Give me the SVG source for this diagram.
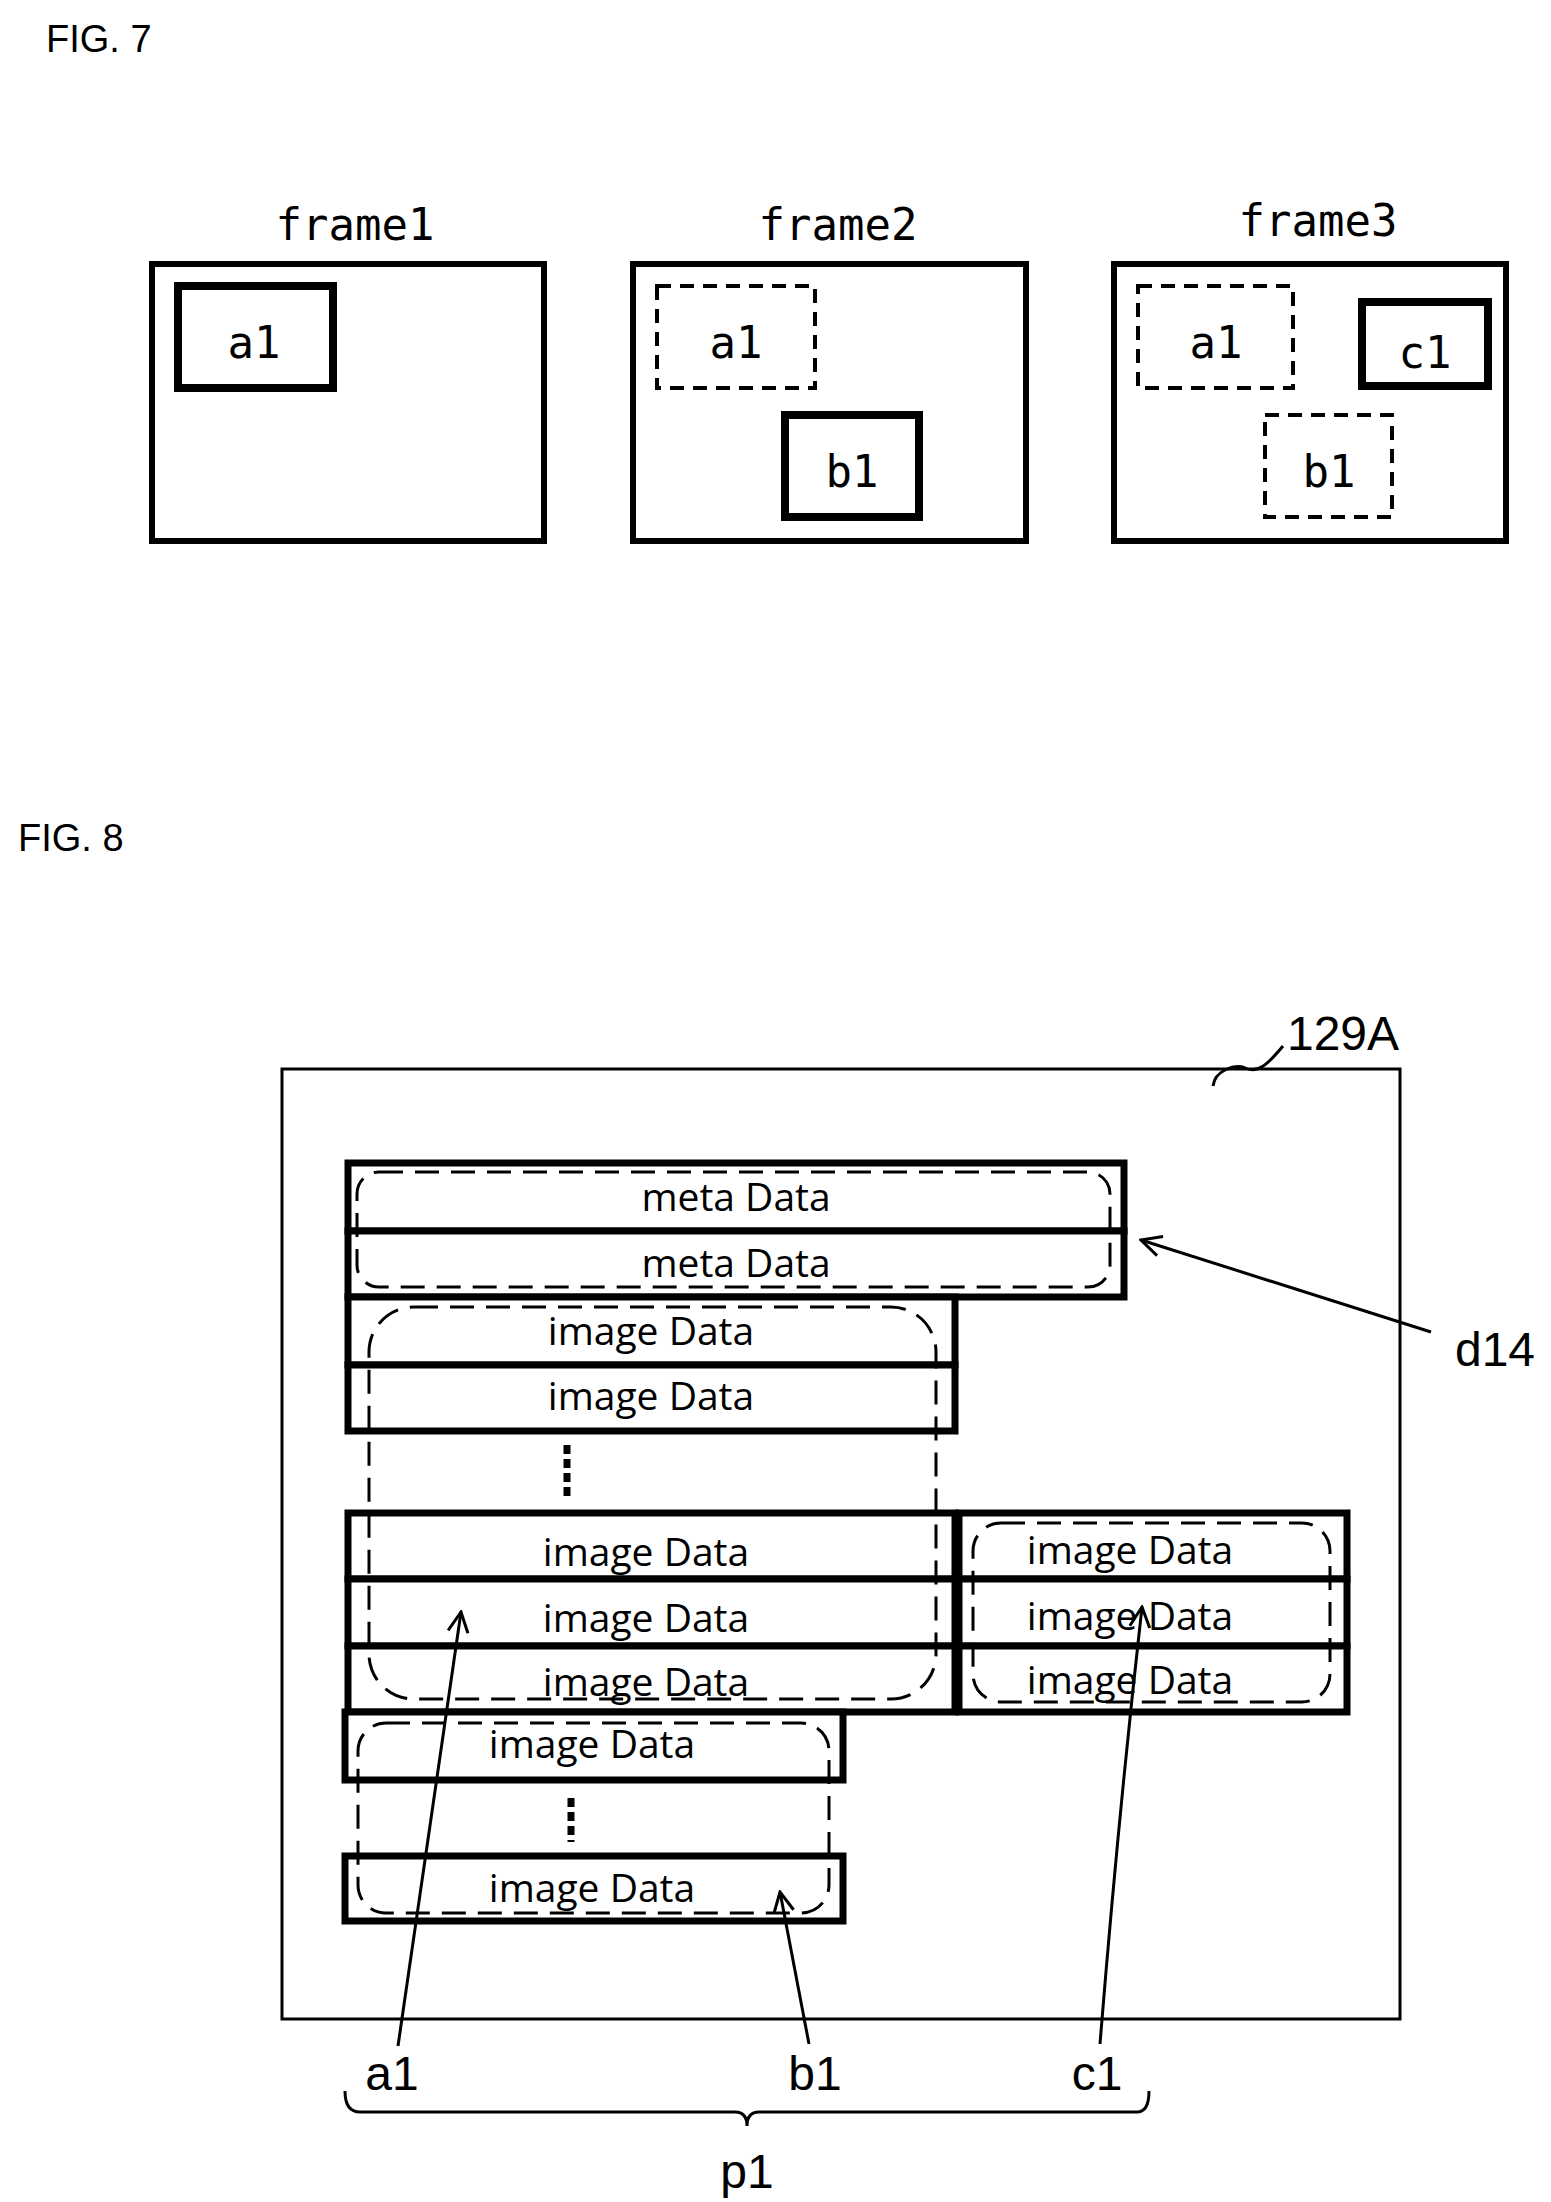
<svg xmlns="http://www.w3.org/2000/svg" width="1551" height="2202" viewBox="0 0 1551 2202">
<style>
.fig{font-family:"Liberation Sans",Arial,sans-serif;font-size:38px;fill:#000}
.mono{font-family:"DejaVu Sans Mono","Liberation Mono",monospace;font-size:44px;fill:#000;text-anchor:middle}
.lab{font-family:"Liberation Sans Narrow","Liberation Sans",sans-serif;font-size:48px;fill:#000;text-anchor:middle}
.dt{font-family:"Open Sans","Noto Sans",sans-serif;font-size:39px;fill:#000;text-anchor:middle}
.frame{fill:#fff;stroke:#000;stroke-width:6}
.solid{fill:#fff;stroke:#000;stroke-width:8}
.dash{fill:none;stroke:#000;stroke-width:4;stroke-dasharray:14 9}
.row{fill:#fff;stroke:#000;stroke-width:7}
.rd{fill:none;stroke:#000;stroke-width:3;stroke-dasharray:24 12}
.ln{fill:none;stroke:#000;stroke-width:3}
</style>
<defs><marker id="ah" markerWidth="24" markerHeight="24" refX="22" refY="12" orient="auto" markerUnits="userSpaceOnUse"><path d="M2,2 L22,12 L2,22" fill="none" stroke="#000" stroke-width="3"/></marker></defs>
<text class="fig" x="46" y="52">FIG. 7</text>
<g id="frame1"><text class="mono" x="355" y="240">frame1</text><rect class="frame" x="152" y="264" width="392" height="277"/>
<g id="f1a1"><rect class="solid" x="178" y="286" width="155" height="102"/><text class="mono" x="254" y="358">a1</text></g></g>
<g id="frame2"><text class="mono" x="838" y="240">frame2</text><rect class="frame" x="633" y="264" width="393" height="277"/>
<g id="f2a1"><rect class="dash" x="657" y="286" width="158" height="102"/><text class="mono" x="736" y="358">a1</text></g>
<g id="f2b1"><rect class="solid" x="785" y="415" width="134" height="102"/><text class="mono" x="852" y="487">b1</text></g></g>
<g id="frame3"><text class="mono" x="1318" y="236">frame3</text><rect class="frame" x="1114" y="264" width="392" height="277"/>
<g id="f3a1"><rect class="dash" x="1138" y="286" width="155" height="102"/><text class="mono" x="1216" y="358">a1</text></g>
<g id="f3c1"><rect class="solid" x="1362" y="302" width="126" height="84"/><text class="mono" x="1425" y="368">c1</text></g>
<g id="f3b1"><rect class="dash" x="1265" y="415" width="127" height="102"/><text class="mono" x="1329" y="487">b1</text></g></g>
<text class="fig" x="18" y="851">FIG. 8</text>
<g id="box129A"><rect x="282" y="1069" width="1118" height="950" fill="#fff" stroke="#000" stroke-width="3"/>
<path class="ln" d="M1213,1086 C1215,1070 1235,1064 1245,1068 C1258,1074 1268,1064 1283,1046"/>
<text class="lab" x="1343" y="1050">129A</text></g>
<g id="rows">
<rect class="row" x="348" y="1163" width="776" height="68"/><rect class="row" x="348" y="1231" width="776" height="66"/>
<rect class="row" x="348" y="1297" width="607" height="68"/><rect class="row" x="348" y="1365" width="607" height="66"/>
<rect class="row" x="348" y="1513" width="607" height="66"/><rect class="row" x="348" y="1579" width="607" height="67"/><rect class="row" x="348" y="1646" width="607" height="66"/>
<rect class="row" x="959" y="1513" width="388" height="66"/><rect class="row" x="959" y="1579" width="388" height="67"/><rect class="row" x="959" y="1646" width="388" height="66"/>
<rect class="row" x="345" y="1712" width="498" height="68"/><rect class="row" x="345" y="1856" width="498" height="65"/>
<path d="M567,1445 V1497 M571,1798 V1842" stroke="#000" stroke-width="7" stroke-dasharray="9 5" fill="none"/>
<text class="dt" x="736" y="1211">meta Data</text><text class="dt" x="736" y="1277">meta Data</text>
<text class="dt" x="651" y="1345">image Data</text><text class="dt" x="651" y="1410">image Data</text>
<text class="dt" x="646" y="1566">image Data</text><text class="dt" x="646" y="1632">image Data</text><text class="dt" x="646" y="1696">image Data</text>
<text class="dt" x="1130" y="1564">image Data</text><text class="dt" x="1130" y="1630">image Data</text><text class="dt" x="1130" y="1694">image Data</text>
<text class="dt" x="592" y="1758">image Data</text><text class="dt" x="592" y="1902">image Data</text>
</g>
<g id="d14"><rect class="rd" x="357" y="1172" width="753" height="115" rx="22"/><text class="lab" x="1495" y="1366">d14</text></g>
<g id="a1"><rect class="rd" x="369" y="1307" width="567" height="392" rx="45"/><text class="lab" x="392" y="2090">a1</text></g>
<g id="c1"><rect class="rd" x="973" y="1523" width="357" height="179" rx="28"/><text class="lab" x="1097" y="2090">c1</text></g>
<g id="b1"><rect class="rd" x="358" y="1723" width="471" height="190" rx="28"/><text class="lab" x="815" y="2090">b1</text></g>
<g id="p1"><path class="ln" d="M345,2091 Q345,2112 360,2112 H735 Q747,2112 747,2126 Q747,2112 759,2112 H1137 Q1149,2112 1149,2091"/><text class="lab" x="747" y="2188">p1</text></g>
<g id="connectors">
<path class="ln" d="M1431,1332 L1141,1240" marker-end="url(#ah)"/>
<path class="ln" d="M398,2046 Q430,1820 461,1612" marker-end="url(#ah)"/>
<path class="ln" d="M809,2044 L780,1892" marker-end="url(#ah)"/>
<path class="ln" d="M1100,2044 Q1118,1820 1142,1607" marker-end="url(#ah)"/>
</g>
</svg>
